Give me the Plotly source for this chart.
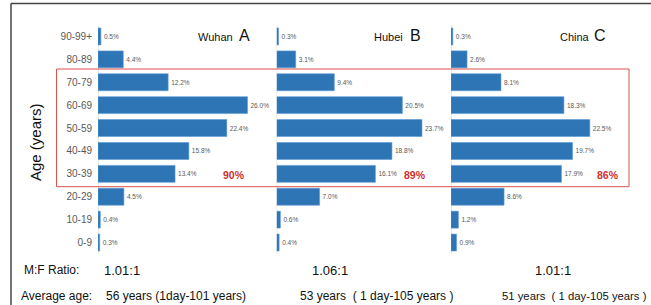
import plotly.graph_objects as go

W, H = 651, 305

age_groups = ["0-9", "10-19", "20-29", "30-39", "40-49", "50-59", "60-69", "70-79", "80-89", "90-99+"]
wuhan = [0.3, 0.4, 4.5, 13.4, 15.8, 22.4, 26.0, 12.2, 4.4, 0.5]
hubei = [0.4, 0.6, 7.0, 16.1, 18.8, 23.7, 20.5, 9.4, 3.1, 0.3]
china = [0.9, 1.2, 8.6, 17.9, 19.7, 22.5, 18.3, 8.1, 2.6, 0.3]

panel_names = ["Wuhan", "Hubei", "China"]
panel_letters = ["A", "B", "C"]
share_30_79 = ["90%", "89%", "86%"]
mf_ratio = ["1.01:1", "1.06:1", "1.01:1"]
avg_age = ["56 years (1day-101 years)", "53 years  ( 1 day-105 years )", "51 years  ( 1 day-105 years )"]

FONT = "Liberation Sans, Arial, sans-serif"
BLUE = "#2e75b6"
GRAY = "#595959"
RED = "#d0312d"


def px(x):
    return x / W


def py(y):
    return 1 - y / H


fig = go.Figure()
series = [wuhan, hubei, china]
axes = ["x", "x2", "x3"]
for vals, ax in zip(series, axes):
    fig.add_trace(go.Bar(
        y=age_groups, x=vals, orientation="h", xaxis=ax, yaxis="y",
        marker=dict(color=BLUE, line=dict(color="#5b9bd5", width=0.6)),
        texttemplate="%{x:.1f}%", textposition="outside",
        textfont=dict(size=6.5, color=GRAY, family=FONT),
        cliponaxis=False, showlegend=False, hoverinfo="skip",
    ))

# x-axis placement (pixels): start, px per percent, range max
xa = [(98, 5.75, 30), (276.7, 6.13, 28), (451, 6.17, 30)]
layout_axes = {}
for i, (x0, s, r) in enumerate(xa):
    key = "xaxis" if i == 0 else f"xaxis{i+1}"
    layout_axes[key] = dict(domain=[px(x0), px(x0 + s * r)], range=[0, r],
                            visible=False, anchor="y", fixedrange=True)

fig.update_layout(
    width=W, height=H,
    margin=dict(l=0, r=0, t=0, b=0),
    paper_bgcolor="white", plot_bgcolor="rgba(0,0,0,0)",
    bargap=0.26,
    font=dict(family=FONT, color="black"),
    yaxis=dict(type="category", categoryorder="array", categoryarray=age_groups,
               domain=[py(254), py(25)], range=[-0.5, 9.5], anchor="x",
               showline=False, showgrid=False, zeroline=False, ticks="",
               ticklabelstandoff=5, fixedrange=True,
               tickfont=dict(size=10, color=GRAY, family=FONT)),
    **layout_axes,
)

shapes = []
# baselines for each panel
for ax in axes:
    shapes.append(dict(type="line", xref=ax, x0=0, x1=0, yref="paper",
                       y0=py(254), y1=py(25), line=dict(color="#d0d0d0", width=1), layer="below"))
# red box around 30-79
shapes.append(dict(type="rect", xref="paper", yref="paper", x0=px(56.5), x1=px(629),
                   y0=py(186.7), y1=py(69), line=dict(color="#d9534f", width=1)))
# frame
shapes.append(dict(type="line", xref="paper", yref="paper", x0=px(11), x1=1.0,
                   y0=py(3.5), y1=py(3.5), line=dict(color="#444444", width=1.5)))
shapes.append(dict(type="line", xref="paper", yref="paper", x0=px(11), x1=px(11),
                   y0=py(3.5), y1=0, line=dict(color="#444444", width=1.5)))
fig.update_layout(shapes=shapes)

ann = []
# panel titles
title_pos = [(235, 237), (405, 408), (592, 592)]
for (xe, xl), name, letter in zip(title_pos, panel_names, panel_letters):
    ann.append(dict(x=px(xe), y=py(37), xref="paper", yref="paper", text=name,
                    xanchor="right", yanchor="middle", showarrow=False,
                    font=dict(size=11, color="#111111", family=FONT)))
    ann.append(dict(x=px(xl), y=py(36), xref="paper", yref="paper", text=letter,
                    xanchor="left", yanchor="middle", showarrow=False,
                    font=dict(size=16, color="#111111", family=FONT)))
# red percentages
for cx, t in zip([233.5, 415, 608], share_30_79):
    ann.append(dict(x=px(cx), y=py(175.5), xref="paper", yref="paper", text="<b>" + t + "</b>",
                    xanchor="center", yanchor="middle", showarrow=False,
                    font=dict(size=10.5, color=RED, family=FONT)))
# y-axis title
ann.append(dict(x=px(35), y=py(142), xref="paper", yref="paper", text="Age (years)",
                textangle=-90, xanchor="center", yanchor="middle", showarrow=False,
                font=dict(size=15, color="#111111", family=FONT)))
# bottom rows
ann.append(dict(x=px(22), y=py(270), xref="paper", yref="paper", text="M:F Ratio:",
                xanchor="left", yanchor="middle", showarrow=False,
                font=dict(size=12, color="#111111", family=FONT)))
for x0, t in zip([102, 310, 533], mf_ratio):
    ann.append(dict(x=px(x0), y=py(270), xref="paper", yref="paper", text=t,
                    xanchor="left", yanchor="middle", showarrow=False,
                    font=dict(size=13, color="#111111", family=FONT)))
ann.append(dict(x=px(19), y=py(295.5), xref="paper", yref="paper", text="Average age:",
                xanchor="left", yanchor="middle", showarrow=False,
                font=dict(size=12, color="#111111", family=FONT)))
for x0, t, fs in zip([104, 298, 500], avg_age, [12, 12, 11.3]):
    ann.append(dict(x=px(x0), y=py(295.5), xref="paper", yref="paper", text=t,
                    xanchor="left", yanchor="middle", showarrow=False,
                    font=dict(size=fs, color="#111111", family=FONT)))
fig.update_layout(annotations=ann)

fig.write_html(
    "out.html",
    config={"displayModeBar": False, "staticPlot": True},
    post_script="document.body.style.margin='0';document.body.style.overflow='hidden';",
)
